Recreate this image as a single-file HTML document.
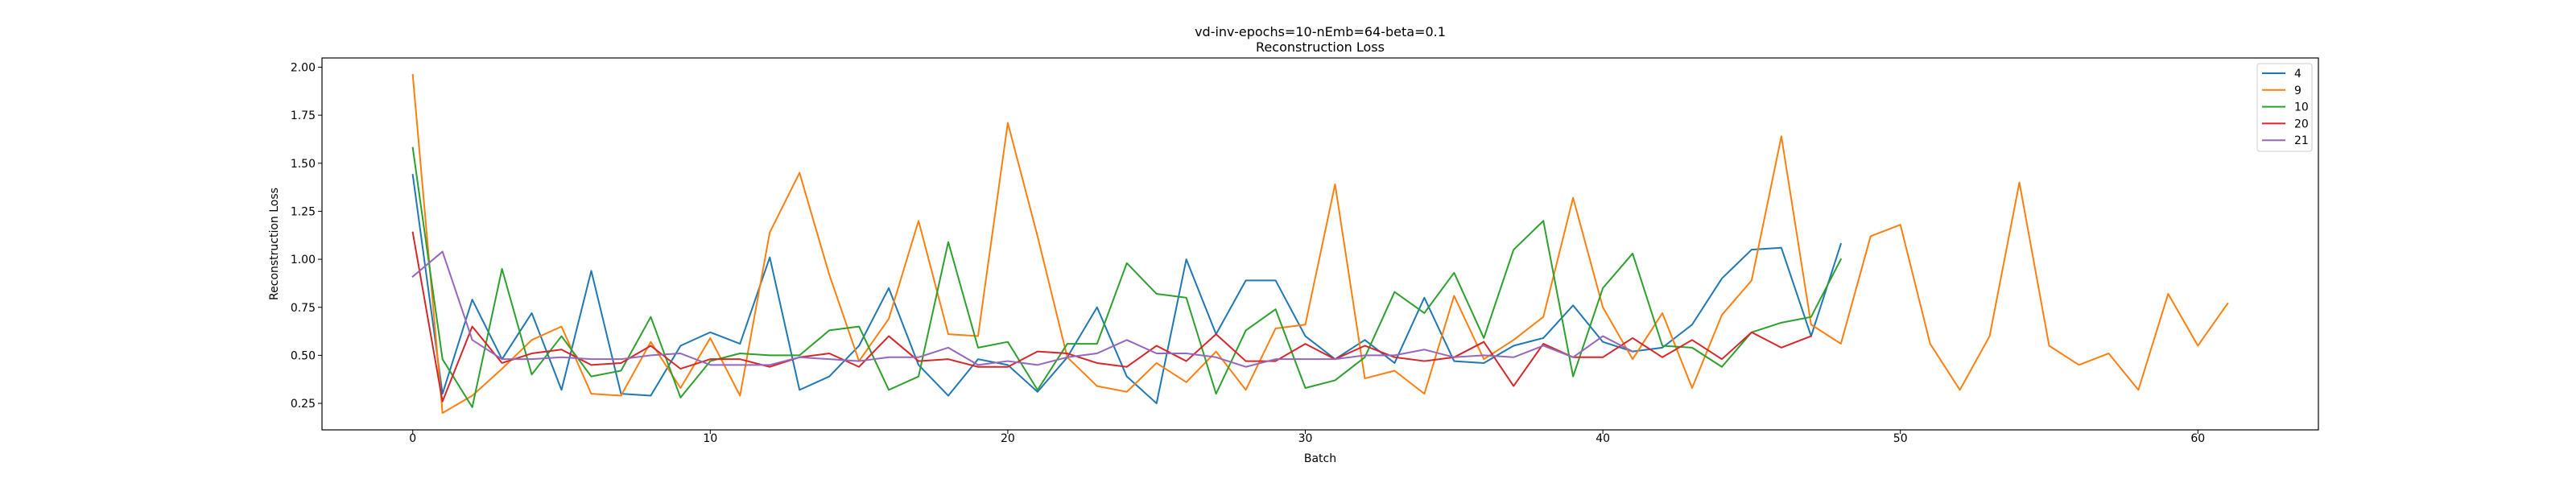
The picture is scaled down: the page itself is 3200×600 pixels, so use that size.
<!DOCTYPE html>
<html><head><meta charset="utf-8"><style>
html,body{margin:0;padding:0;background:#fff;}
svg{display:block;font-family:"DejaVu Sans","Liberation Sans",sans-serif;}
</style></head><body>
<svg id="chart" width="3200" height="600" viewBox="0 0 3200 600" xmlns="http://www.w3.org/2000/svg"></svg>
<script>
const seriesNames = ["4","9","10","20","21"];
const seriesColors = ["#1f77b4","#ff7f0e","#2ca02c","#d62728","#9467bd"];
const s4 = [1.44,0.30,0.79,0.48,0.72,0.32,0.94,0.30,0.29,0.55,0.62,0.56,1.01,0.32,0.39,0.55,0.85,0.45,0.29,0.48,0.45,0.31,0.49,0.75,0.39,0.25,1.00,0.61,0.89,0.89,0.60,0.48,0.58,0.46,0.80,0.47,0.46,0.55,0.59,0.76,0.57,0.52,0.54,0.66,0.90,1.05,1.06,0.60,1.08];
const s9 = [1.96,0.20,0.29,0.43,0.58,0.65,0.30,0.29,0.57,0.33,0.59,0.29,1.14,1.45,0.92,0.47,0.69,1.20,0.61,0.60,1.71,1.12,0.49,0.34,0.31,0.46,0.36,0.52,0.32,0.64,0.66,1.39,0.38,0.42,0.30,0.81,0.48,0.58,0.70,1.32,0.75,0.48,0.72,0.33,0.71,0.89,1.64,0.66,0.56,1.12,1.18,0.56,0.32,0.60,1.40,0.55,0.45,0.51,0.32,0.82,0.55,0.77];
const s10 = [1.58,0.48,0.23,0.95,0.40,0.60,0.39,0.42,0.70,0.28,0.47,0.51,0.50,0.50,0.63,0.65,0.32,0.39,1.09,0.54,0.57,0.32,0.56,0.56,0.98,0.82,0.80,0.30,0.63,0.74,0.33,0.37,0.49,0.83,0.72,0.93,0.59,1.05,1.20,0.39,0.85,1.03,0.55,0.54,0.44,0.62,0.67,0.70,1.00];
const s20 = [1.14,0.26,0.65,0.46,0.51,0.53,0.45,0.46,0.55,0.43,0.48,0.48,0.44,0.49,0.51,0.44,0.60,0.47,0.48,0.44,0.44,0.52,0.51,0.46,0.44,0.55,0.47,0.61,0.47,0.47,0.56,0.48,0.55,0.49,0.47,0.49,0.57,0.34,0.56,0.49,0.49,0.59,0.49,0.58,0.48,0.62,0.54,0.60];
const s21 = [0.91,1.04,0.58,0.48,0.48,0.49,0.48,0.48,0.50,0.51,0.45,0.45,0.45,0.49,0.48,0.47,0.49,0.49,0.54,0.45,0.47,0.45,0.49,0.51,0.58,0.51,0.51,0.49,0.44,0.48,0.48,0.48,0.50,0.50,0.53,0.49,0.50,0.49,0.55,0.49,0.60,0.52];
const allSeries = [s4,s9,s10,s20,s21];
const xTicks = [0,10,20,30,40,50,60];
const yTicks = [0.25,0.50,0.75,1.00,1.25,1.50,1.75,2.00];

const NS="http://www.w3.org/2000/svg";
const svg=document.getElementById('chart');
const L=400,R=2880,T=72,B=534;
let maxN=0,vmin=Infinity,vmax=-Infinity;
allSeries.forEach(s=>{maxN=Math.max(maxN,s.length);s.forEach(v=>{vmin=Math.min(vmin,v);vmax=Math.max(vmax,v);});});
const xr=maxN-1, xmin=-0.05*xr, xmax=xr+0.05*xr;
const yr=vmax-vmin, ymin=vmin-0.05*yr, ymax=vmax+0.05*yr;
const X=v=>L+(v-xmin)/(xmax-xmin)*(R-L);
const Y=v=>B-(v-ymin)/(ymax-ymin)*(B-T);
function el(tag,attrs,text){const e=document.createElementNS(NS,tag);for(const k in attrs)e.setAttribute(k,attrs[k]);if(text!==undefined)e.textContent=text;svg.appendChild(e);return e;}

const t1=el('text',{x:1640,y:45,'text-anchor':'middle','font-size':16},'vd-inv-epochs=10-nEmb=64-beta=0.1');


const t2=el('text',{x:1640,y:64,'text-anchor':'middle','font-size':16},'Reconstruction Loss');



allSeries.forEach((s,i)=>{
  const pts=s.map((v,j)=>X(j).toFixed(2)+','+Y(v).toFixed(2)).join(' ');
  const p=el('polyline',{points:pts,fill:'none',stroke:seriesColors[i],'stroke-width':2,'stroke-linejoin':'round','stroke-linecap':'square'});
  
  
});

const frame=el('rect',{x:L,y:T,width:R-L,height:B-T,fill:'none',stroke:'#000','stroke-width':1.2});



xTicks.forEach(t=>{
  const x=X(t);
  el('line',{x1:x,x2:x,y1:B,y2:B+5,stroke:'#000','stroke-width':1});
  const lab=el('text',{x:x,y:B+15,'text-anchor':'middle','font-size':14},String(t));
  
  
});
yTicks.forEach(t=>{
  const y=Y(t);
  el('line',{x1:L-5,x2:L,y1:y,y2:y,stroke:'#000','stroke-width':1});
  const lab=el('text',{x:L-8,y:y+5,'text-anchor':'end','font-size':14},t.toFixed(2));
  
  
});
const xl=el('text',{x:1640,y:574,'text-anchor':'middle','font-size':14},'Batch');


const yl=el('text',{x:0,y:0,'text-anchor':'middle','font-size':14,transform:'translate(345,303) rotate(-90)'},'Reconstruction Loss');



const lg=el('rect',{x:2804,y:79,width:68,height:109,rx:3,fill:'#fff','fill-opacity':0.8,stroke:'#ccc','stroke-width':1});


seriesNames.forEach((n,i)=>{
  const y=91+i*20.8;
  const ln=el('line',{x1:2810,x2:2839,y1:y,y2:y,stroke:seriesColors[i],'stroke-width':2});
  
  
  const tx=el('text',{x:2850,y:y+5,'font-size':14},n);
  
  
});
</script>
</body></html>
